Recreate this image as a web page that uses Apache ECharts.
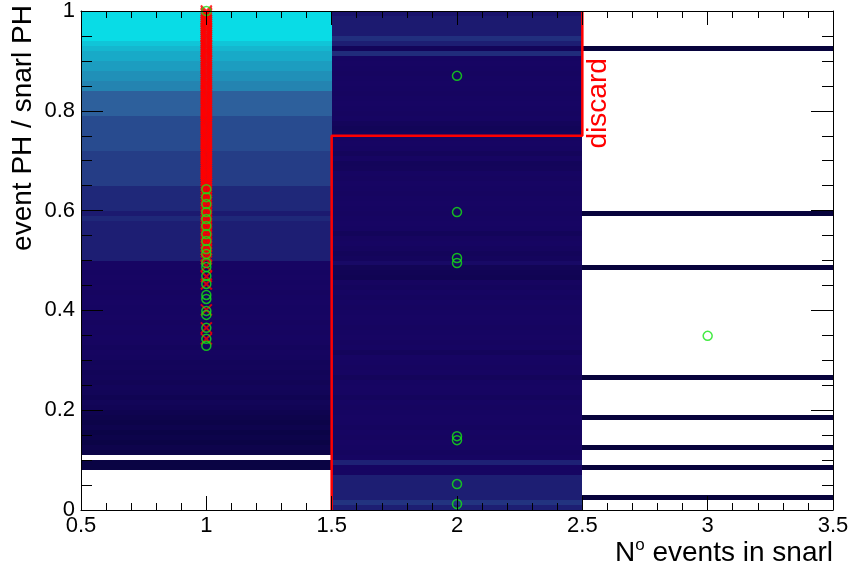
<!DOCTYPE html>
<html>
<head>
<meta charset="utf-8">
<script src="https://cdn.jsdelivr.net/npm/echarts@6/dist/echarts.min.js"></script>
<style>
html, body { margin: 0; padding: 0; background: #ffffff; }
#chart { width: 854px; height: 574px; }
</style>
</head>
<body>
<div id="chart"></div>
<script>
// Column centres of the 2D histogram (number of events in a snarl)
const nEventsBins = [1, 2, 3];
const xTickLabels = ['0.5', '1', '1.5', '2', '2.5', '3', '3.5'];
const yTickLabels = ['0', '0.2', '0.4', '0.6', '0.8', '1'];

// Bin contents along event PH / snarl PH (100 bins of 0.01), one array per column
const countsN1 = [
  0, 0, 0, 0, 0, 0, 0, 0, 15, 15,
  0, 17, 20, 16, 19, 17, 21, 18, 20, 22,
  25, 27, 24, 27, 28, 26, 28, 27, 29, 28,
  31, 32, 30, 32, 33, 32, 33, 32, 34, 33,
  33, 34, 33, 32, 34, 33, 34, 33, 34, 34,
  41, 41, 41, 41, 41, 41, 41, 41, 44, 40,
  44, 44, 44, 44, 44, 50, 50, 50, 50, 50,
  50, 50, 54, 54, 54, 54, 54, 54, 54, 60,
  60, 60, 60, 60, 71, 71, 75, 75, 79, 79,
  83, 83, 86, 89, 94, 94, 94, 94, 94, 94
];
const countsN2 = [
  41, 47, 41, 41, 41, 41, 41, 33, 33, 42,
  33, 31, 33, 34, 32, 33, 31, 33, 34, 33,
  32, 33, 30, 33, 34, 33, 29, 33, 32, 33,
  34, 29, 33, 32, 34, 33, 32, 33, 34, 33,
  32, 33, 31, 33, 30, 32, 24, 25, 26, 35,
  30, 28, 31, 33, 32, 28, 33, 34, 33, 32,
  33, 34, 33, 32, 33, 34, 32, 33, 29, 28,
  33, 29, 33, 34, 33, 28, 27, 29, 33, 32,
  33, 34, 33, 32, 33, 34, 33, 32, 33, 34,
  33, 45, 28, 41, 46, 40, 40, 40, 40, 38
];
const countsN3 = [
  0, 0, 10, 0, 0, 0, 0, 0, 10, 0,
  0, 0, 10, 0, 0, 0, 0, 0, 10, 0,
  0, 0, 0, 0, 0, 0, 10, 0, 0, 0,
  0, 0, 0, 0, 0, 0, 0, 0, 0, 0,
  0, 0, 0, 0, 0, 0, 0, 0, 10, 0,
  0, 0, 0, 0, 0, 0, 0, 0, 0, 10,
  0, 0, 0, 0, 0, 0, 0, 0, 0, 0,
  0, 0, 0, 0, 0, 0, 0, 0, 0, 0,
  0, 0, 0, 0, 0, 0, 0, 0, 0, 0,
  0, 0, 10, 0, 0, 0, 0, 0, 0, 0
];
const countsByColumn = [countsN1, countsN2, countsN3];
const yBinWidth = 0.01;

// Single events (open circles) per snarl multiplicity
const circleN1 = [1.000, 0.643, 0.627, 0.613, 0.597, 0.583, 0.569, 0.553, 0.539, 0.523,
  0.513, 0.495, 0.487, 0.469, 0.453, 0.431, 0.423, 0.399, 0.391, 0.365, 0.343, 0.329];
const circleN2 = [0.870, 0.597, 0.505, 0.495, 0.148, 0.140, 0.052, 0.012];
const circleN3 = [0.349];

// Selected events (crosses), all in single-event snarls
const crossN1 = [
  1.000, 0.996, 0.993, 0.989, 0.985, 0.981, 0.978, 0.974, 0.970, 0.966,
  0.963, 0.959, 0.955, 0.951, 0.948, 0.944, 0.940, 0.936, 0.932, 0.929,
  0.925, 0.921, 0.918, 0.914, 0.910, 0.906, 0.902, 0.899, 0.895, 0.891,
  0.887, 0.884, 0.880, 0.876, 0.872, 0.869, 0.865, 0.861, 0.857, 0.854,
  0.850, 0.846, 0.842, 0.839, 0.835, 0.831, 0.827, 0.824, 0.820, 0.816,
  0.812, 0.809, 0.805, 0.801, 0.797, 0.794, 0.790, 0.786, 0.782, 0.779,
  0.775, 0.771, 0.767, 0.764, 0.760, 0.756, 0.752, 0.749, 0.745, 0.741,
  0.737, 0.734, 0.730, 0.726, 0.722, 0.719, 0.715, 0.711, 0.707, 0.704,
  0.700, 0.696, 0.692, 0.689, 0.685, 0.681, 0.677, 0.674, 0.670, 0.666,
  0.662, 0.659, 0.655, 0.651, 0.646, 0.641, 0.636, 0.631, 0.626, 0.621,
  0.616, 0.610, 0.605, 0.600, 0.594, 0.589, 0.584, 0.578, 0.573, 0.568,
  0.562, 0.556, 0.551, 0.545, 0.540, 0.534, 0.528, 0.522, 0.517, 0.510,
  0.503, 0.489, 0.468, 0.453, 0.401, 0.365, 0.343
];

// Discard region boundary
const discardX = [1.5, 1.5, 2.5, 2.5];
const discardY = [0.0, 0.75, 0.75, 1.0];

// Deep-sea colour palette (dark navy -> cyan)
function deepSeaPalette(n) {
  const stops = [0.00, 0.34, 0.61, 0.84, 1.00];
  const r = [0.00, 0.09, 0.18, 0.09, 0.00];
  const g = [0.01, 0.02, 0.39, 0.68, 0.97];
  const b = [0.17, 0.39, 0.62, 0.79, 0.97];
  const out = [];
  for (let k = 0; k < n; k++) {
    const t = k / (n - 1);
    let s = 0;
    while (s < stops.length - 2 && t > stops[s + 1]) s++;
    const f = (t - stops[s]) / (stops[s + 1] - stops[s]);
    const c = [r, g, b].map(a => Math.round(255 * (a[s] + f * (a[s + 1] - a[s]))));
    out.push('rgb(' + c.join(',') + ')');
  }
  return out;
}

// Histogram cells: [xLow, xHigh, yLow, yHigh, content]
const cells = [];
nEventsBins.forEach((xc, ci) => {
  countsByColumn[ci].forEach((v, i) => {
    if (v > 0) cells.push([xc - 0.5, xc + 0.5, i * yBinWidth, (i + 1) * yBinWidth, v]);
  });
});

const pairs = (x, ys) => ys.map(y => [x, y]);
const font = 'Liberation Sans, Arial, Helvetica, sans-serif';

const chart = echarts.init(document.getElementById('chart'), null, { renderer: 'canvas' });

function axisCommon(extra) {
  return Object.assign({
    type: 'value',
    gridIndex: 0,
    z: 10,
    splitLine: { show: false },
    axisLine: { show: true, onZero: false, lineStyle: { color: '#000', width: 1 } },
    axisPointer: { show: false }
  }, extra);
}

const option = {
  backgroundColor: '#ffffff',
  animation: false,
  grid: { left: 81, right: 21, top: 9, bottom: 64, containLabel: false },
  visualMap: {
    type: 'continuous', show: false, min: 0, max: 100, dimension: 4, seriesIndex: 0,
    inRange: { color: deepSeaPalette(101) }
  },
  xAxis: [
    axisCommon({
      position: 'bottom', min: 0.5, max: 3.5, interval: 0.5,
      axisTick: { inside: true, length: 14, lineStyle: { color: '#000', width: 1 } },
      minorTick: { show: true, splitNumber: 5, length: 7, lineStyle: { color: '#000', width: 1 } },
      axisLabel: {
        fontSize: 22, fontFamily: font, color: '#000', margin: 5,
        formatter: v => xTickLabels[Math.round((v - 0.5) / 0.5)]
      }
    }),
    axisCommon({
      position: 'top', min: 0.5, max: 3.5, interval: 0.5,
      axisTick: { inside: true, length: 14, lineStyle: { color: '#000', width: 1 } },
      minorTick: { show: true, splitNumber: 5, length: 7, lineStyle: { color: '#000', width: 1 } },
      axisLabel: { show: false }
    })
  ],
  yAxis: [
    axisCommon({
      position: 'left', min: 0, max: 1, interval: 0.2,
      axisTick: { inside: true, length: 22, lineStyle: { color: '#000', width: 1 } },
      minorTick: { show: true, splitNumber: 4, length: 11, lineStyle: { color: '#000', width: 1 } },
      axisLabel: {
        fontSize: 22, fontFamily: font, color: '#000', margin: 6,
        formatter: v => yTickLabels[Math.round(v / 0.2)]
      }
    }),
    axisCommon({
      position: 'right', min: 0, max: 1, interval: 0.2,
      axisTick: { inside: true, length: 22, lineStyle: { color: '#000', width: 1 } },
      minorTick: { show: true, splitNumber: 4, length: 11, lineStyle: { color: '#000', width: 1 } },
      axisLabel: { show: false }
    })
  ],
  series: [
    {
      type: 'custom',
      xAxisIndex: 0, yAxisIndex: 0,
      z: 1,
      data: cells,
      encode: { x: [0, 1], y: [2, 3] },
      renderItem: function (params, api) {
        const a = api.coord([api.value(0), api.value(3)]);
        const b = api.coord([api.value(1), api.value(2)]);
        const x0 = Math.round(a[0]), y0 = Math.round(a[1]);
        const x1 = Math.round(b[0]), y1 = Math.round(b[1]);
        return {
          type: 'rect',
          shape: { x: x0, y: y0, width: x1 - x0, height: y1 - y0 },
          style: { fill: api.visual('color'), stroke: null }
        };
      }
    },
    {
      type: 'line',
      z: 3,
      data: discardX.map((x, i) => [x, discardY[i]]),
      showSymbol: false,
      symbol: 'none',
      lineStyle: { color: '#ff0000', width: 2.5 },
      clip: false
    },
    {
      type: 'scatter',
      z: 4,
      clip: false,
      data: pairs(nEventsBins[0], crossN1),
      symbol: 'path://M0,0L10,10M10,0L0,10',
      symbolSize: 11,
      itemStyle: { color: 'rgba(0,0,0,0)', borderColor: '#ff0000', borderWidth: 2 }
    },
    {
      type: 'scatter',
      z: 5,
      clip: false,
      data: pairs(nEventsBins[0], circleN1)
        .concat(pairs(nEventsBins[1], circleN2))
        .concat(pairs(nEventsBins[2], circleN3)),
      symbol: 'circle',
      symbolSize: 9,
      itemStyle: { color: 'rgba(0,0,0,0)', borderColor: '#14e614', borderWidth: 1.5 }
    }
  ]
};

chart.setOption(option);

// Axis titles and the region annotation
const discardPos = chart.convertToPixel({ gridIndex: 0 }, [2.565, 0.815]);
chart.setOption({
  graphic: [
    {
      type: 'text', x: 23, y: 5, rotation: Math.PI / 2, z: 20,
      style: {
        text: 'event PH / snarl PH', fill: '#000', fontSize: 28, fontFamily: font,
        align: 'right', verticalAlign: 'middle', textAlign: 'right', textVerticalAlign: 'middle'
      }
    },
    {
      type: 'text', x: 833, y: 552, z: 20,
      style: {
        text: '{a|N}{b|o}{a| events in snarl}',
        fill: '#000', fontSize: 28, fontFamily: font,
        align: 'right', verticalAlign: 'middle', textAlign: 'right', textVerticalAlign: 'middle',
        rich: {
          a: { fontSize: 28, fontFamily: font, fill: '#000', lineHeight: 30, verticalAlign: 'bottom' },
          b: { fontSize: 17, fontFamily: font, fill: '#000', lineHeight: 30, verticalAlign: 'top', padding: [0, 0, 6, 0] }
        }
      }
    },
    {
      type: 'text', x: discardPos[0], y: discardPos[1], rotation: Math.PI / 2, z: 20,
      style: {
        text: 'discard', fill: '#ff0000', fontSize: 28, fontFamily: font,
        align: 'center', verticalAlign: 'middle', textAlign: 'center', textVerticalAlign: 'middle'
      }
    }
  ]
});
</script>
</body>
</html>
